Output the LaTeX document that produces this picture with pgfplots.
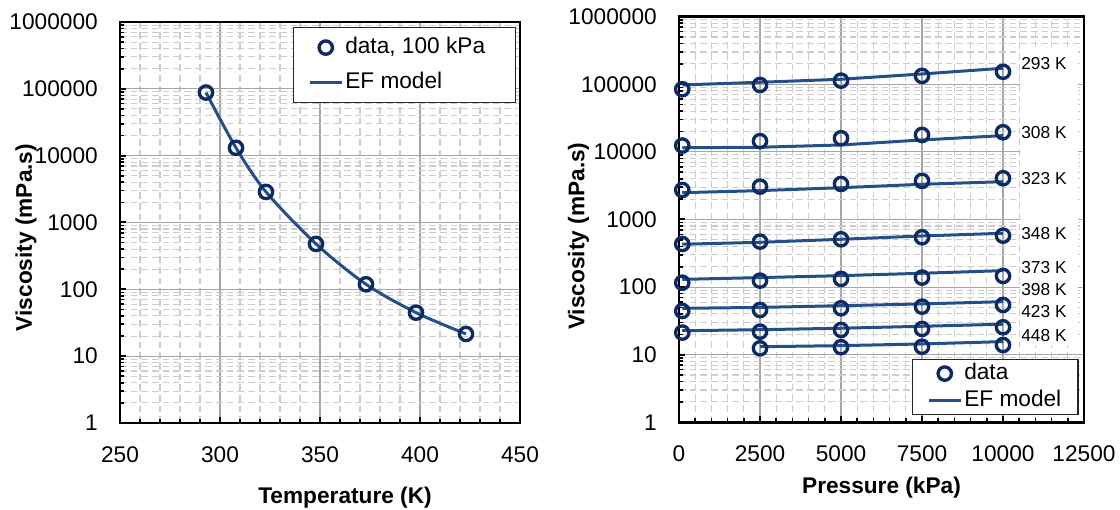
\documentclass[border=0pt]{standalone}
\usepackage{fontspec}
\setmainfont{Liberation Sans}
\usepackage{pgfplots}
\pgfplotsset{compat=1.18}
\definecolor{markblue}{HTML}{0B2A66}
\definecolor{lineblue}{HTML}{24508A}
\definecolor{majgrid}{HTML}{A6A6A6}
\definecolor{mingrid}{HTML}{CDCDCD}
\newcommand{\fs}{\fontsize{17}{20}\selectfont}

\pgfplotsset{
  visc/.style={
    scale only axis,
    anchor=south west,
    scaled x ticks=false,
    ymin=1, ymax=1000000,
    ytick={1,10,100,1000,10000,100000,1000000},
    yticklabels={1,10,100,1000,10000,100000,1000000},
    minor ytick={2,3,4,5,6,7,8,9,20,30,40,50,60,70,80,90,200,300,400,500,600,700,800,900,
      2000,3000,4000,5000,6000,7000,8000,9000,20000,30000,40000,50000,60000,70000,80000,90000,
      200000,300000,400000,500000,600000,700000,800000,900000},
    minor x tick num=4,
    tick align=inside, tick pos=left,
    major tick length=4.5pt, minor tick length=3pt,
    major tick style={black, line width=1.5pt},
    minor tick style={black, line width=1.2pt},
    grid=both,
    major grid style={majgrid, line width=0.8pt},
    minor grid style={mingrid, line width=0.8pt, dash pattern=on 5pt off 3pt},
    axis line style={black, line width=2.2pt},
    tick label style={font=\fs},
    yticklabel style={anchor=east, inner sep=0pt, xshift=-16.5pt},
    xticklabel style={anchor=north, inner sep=0pt, yshift=-17.5pt},
    label style={font=\fs\bfseries},
    ylabel={Viscosity (mPa.s)},
    legend image code/.code={\draw[mark repeat=2,mark phase=2,##1] plot coordinates {(0pt,0pt) (12pt,0pt) (24pt,0pt)};},
  },
  dat/.style={only marks, mark=o, mark size=5pt, markblue, mark options={line width=2.5pt, solid}},
  mdl/.style={lineblue, line width=2.25pt},
}

\begin{document}
\begin{tikzpicture}
\useasboundingbox (0,0) rectangle (840pt,382.5pt);

% left: viscosity vs temperature at 100 kPa
\begin{semilogyaxis}[visc,
  at={(90pt,65.25pt)},
  width=300pt, height=300.75pt,
  xmin=250, xmax=450,
  xtick={250,300,350,400,450},
  xticklabels={250,300,350,400,450},
  xlabel={Temperature (K)},
  xlabel style={at={(axis description cs:0.5625,0)}, anchor=base, yshift=-60pt},
  ylabel style={at={(axis description cs:0,0.4626)}, anchor=base, yshift=66pt},
  legend style={at={(axis description cs:0.4325,0.9875)}, anchor=north west,
    draw=black!85, line width=0.9pt, fill=white, font=\fs,
    inner xsep=11pt, inner ysep=7pt, row sep=10.25pt,
    nodes={inner xsep=1.5pt, inner ysep=0pt, text height=12.5pt, text depth=3.5pt},
    cells={anchor=west}},
]
\addplot[mdl, smooth, forget plot] coordinates {
  (293,88000) (308,13100) (323,2870) (348,478) (373,119) (398,44.8) (423,21.5)
};
\addplot[dat] coordinates {
  (293,88000) (308,13100) (323,2870) (348,478) (373,119) (398,44.8) (423,21.5)
};
\addlegendentry{data, 100 kPa\hspace*{10pt}}
\addlegendimage{mdl}
\addlegendentry{EF model}
\end{semilogyaxis}

% right: viscosity vs pressure at each temperature
\begin{semilogyaxis}[visc,
  at={(509.25pt,65.8pt)},
  width=303.75pt, height=304.2pt,
  xmin=0, xmax=12500,
  xtick={0,2500,5000,7500,10000,12500},
  xticklabels={0,2500,5000,7500,10000,12500},
  xlabel={Pressure (kPa)},
  xlabel style={at={(axis description cs:0.5,0)}, anchor=base, yshift=-53.3pt},
  ylabel style={at={(axis description cs:0,0.459)}, anchor=base, yshift=71pt},
  legend style={at={(axis description cs:0.5753,0.156)}, anchor=north west,
    draw=black!85, line width=0.9pt, fill=white, font=\fs,
    inner xsep=11pt, inner ysep=2.5pt, row sep=4.25pt,
    nodes={inner xsep=1.5pt, inner ysep=0pt, text height=12.5pt, text depth=3.5pt},
    cells={anchor=west}},
]
\fill[white] (axis cs:10525,356000) rectangle (axis cs:12315,13.9);

% EF model
\addplot[mdl, forget plot] coordinates {(100,97700) (2500,107000) (5000,118600) (7500,142000) (10000,172500)};
\addplot[mdl, forget plot] coordinates {(100,11500) (2500,11700) (5000,12650) (7500,15000) (10000,17400)};
\addplot[mdl, forget plot] coordinates {(100,2490) (2500,2670) (5000,2950) (7500,3315) (10000,3620)};
\addplot[mdl, forget plot] coordinates {(100,430) (2500,459) (5000,509) (7500,570) (10000,625)};
\addplot[mdl, forget plot] coordinates {(100,130) (2500,138) (5000,147.5) (7500,160) (10000,175)};
\addplot[mdl, forget plot] coordinates {(100,48.5) (2500,50) (5000,53) (7500,56.3) (10000,60.8)};
\addplot[mdl, forget plot] coordinates {(100,22.6) (2500,23.4) (5000,24.6) (7500,26.3) (10000,28.2)};
\addplot[mdl, forget plot] coordinates {(2500,13.1) (5000,13.6) (7500,14.4) (10000,15.6)};

% data
\addplot[dat] coordinates {(100,84400) (2500,97700) (5000,113000) (7500,133000) (10000,153000)};
\addlegendentry{data}
\addlegendimage{mdl}
\addlegendentry{EF model}
\addplot[dat, forget plot] coordinates {(100,12400) (2500,14400) (5000,15900) (7500,17800) (10000,19500)};
\addplot[dat, forget plot] coordinates {(100,2730) (2500,3060) (5000,3350) (7500,3720) (10000,4070)};
\addplot[dat, forget plot] coordinates {(100,434) (2500,470) (5000,509) (7500,545) (10000,576)};
\addplot[dat, forget plot] coordinates {(100,116) (2500,124.5) (5000,132) (7500,138) (10000,146)};
\addplot[dat, forget plot] coordinates {(100,44.3) (2500,45.8) (5000,48.5) (7500,51.3) (10000,54.4)};
\addplot[dat, forget plot] coordinates {(100,21.2) (2500,21.9) (5000,23.2) (7500,24.0) (10000,25.4)};
\addplot[dat, forget plot] coordinates {(2500,12.4) (5000,12.9) (7500,13.1) (10000,13.9)};

\begin{scope}[every node/.style={anchor=west, inner sep=0pt, font=\fontsize{13}{15}\selectfont}]
\node at (axis cs:10556,204600) {293 K};
\node at (axis cs:10556,19500) {308 K};
\node at (axis cs:10556,4074) {323 K};
\node at (axis cs:10556,625) {348 K};
\node at (axis cs:10556,196) {373 K};
\node at (axis cs:10556,90.6) {398 K};
\node at (axis cs:10556,43.2) {423 K};
\node at (axis cs:10556,19.5) {448 K};
\end{scope}
\end{semilogyaxis}
\end{tikzpicture}
\end{document}
